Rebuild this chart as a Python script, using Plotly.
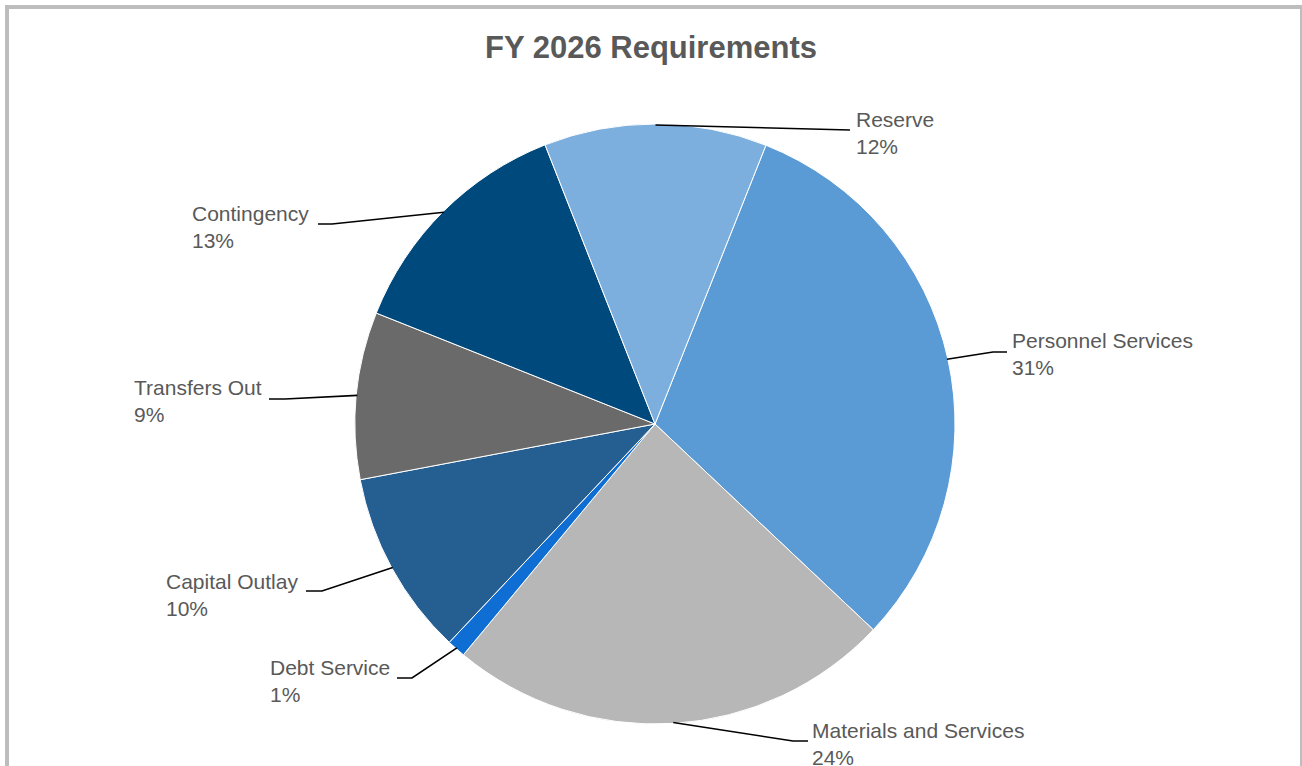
import math
import plotly.graph_objects as go

# ---- data -------------------------------------------------------------
categories = [
    "Personnel Services",
    "Materials and Services",
    "Debt Service",
    "Capital Outlay",
    "Transfers Out",
    "Contingency",
    "Reserve",
]
shares = [31, 24, 1, 10, 9, 13, 12]  # percent of FY 2026 requirements

# ---- styling ------------------------------------------------------------
slice_colors = ["#5B9BD5", "#B7B7B7", "#0E6ED3", "#255E91",
                "#6A6A6A", "#00497D", "#7CAFDD"]
TEXT_COLOR = "#595959"
FONT = "Liberation Sans, Arial, sans-serif"

W, H = 1302, 766
PIE_CX, PIE_CY, PIE_R = 655, 424, 300   # pie centre and radius (px)
ROTATION = 21.7                         # start angle of first slice (deg, clockwise from 12)

# label placement (px): elbow of the leader, end of the short horizontal
# run, text anchor x, text block centre y, and which side the text sits on
label_layout = {
    "Personnel Services":     dict(elbow=(993, 352), end=1007, tx=1010, ty=354, side="right"),
    "Materials and Services": dict(elbow=(793, 741), end=808, tx=810, ty=744, side="right"),
    "Debt Service":           dict(elbow=(412, 678), end=397, tx=392, ty=681, side="left"),
    "Capital Outlay":         dict(elbow=(322, 591), end=306, tx=300, ty=595, side="left"),
    "Transfers Out":          dict(elbow=(285, 399), end=269, tx=264, ty=401, side="left"),
    "Contingency":            dict(elbow=(332, 224), end=318, tx=311, ty=227, side="left"),
    "Reserve":                dict(elbow=(850, 130), end=850, tx=854, ty=133, side="right"),
}


def px(x):
    return x / W


def py(y):
    return 1 - y / H


fig = go.Figure(
    go.Pie(
        labels=categories,
        values=shares,
        sort=False,
        direction="clockwise",
        rotation=ROTATION,
        marker=dict(colors=slice_colors, line=dict(color="white", width=1)),
        textinfo="none",
        hoverinfo="label+percent",
        domain=dict(
            x=[px(PIE_CX - PIE_R), px(PIE_CX + PIE_R)],
            y=[py(PIE_CY + PIE_R), py(PIE_CY - PIE_R)],
        ),
        showlegend=False,
    )
)

# leader lines and labels, anchored at each slice's mid-angle on the rim
shapes = []
annotations = []
total = sum(shares)
start = ROTATION
for name, value in zip(categories, shares):
    sweep = 360 * value / total
    mid = math.radians(start + sweep / 2)
    start += sweep
    sx = PIE_CX + (PIE_R - 1) * math.sin(mid)
    sy = PIE_CY - (PIE_R - 1) * math.cos(mid)
    lay = label_layout[name]
    ex, ey = lay["elbow"]
    path = (f"M {px(sx)} {py(sy)} L {px(ex)} {py(ey)} "
            f"L {px(lay['end'])} {py(ey)}")
    shapes.append(dict(type="path", xref="paper", yref="paper", path=path,
                       line=dict(color="black", width=1.6)))
    pct = round(100 * value / total)
    annotations.append(dict(
        xref="paper", yref="paper",
        x=px(lay["tx"]), y=py(lay["ty"]),
        xanchor="left" if lay["side"] == "right" else "right",
        yanchor="middle", align="left", showarrow=False,
        text=f"{name}<br>{pct}%",
        font=dict(family=FONT, size=21, color=TEXT_COLOR),
    ))

# chart-area border
shapes.append(dict(type="rect", xref="paper", yref="paper",
                   x0=px(7), y0=py(7), x1=px(1302), y1=py(800),
                   line=dict(color="#BDBDBD", width=4), fillcolor="rgba(0,0,0,0)"))

fig.update_layout(
    width=W, height=H,
    margin=dict(l=0, r=0, t=0, b=0),
    paper_bgcolor="white",
    plot_bgcolor="white",
    title=dict(
        text="FY 2026 Requirements",
        x=0.5, xanchor="center", xref="paper",
        y=py(47), yanchor="middle", yref="paper",
        font=dict(family=FONT, size=31, color=TEXT_COLOR, weight="bold"),
    ),
    shapes=shapes,
    annotations=annotations,
)

fig.write_html("out.html")
